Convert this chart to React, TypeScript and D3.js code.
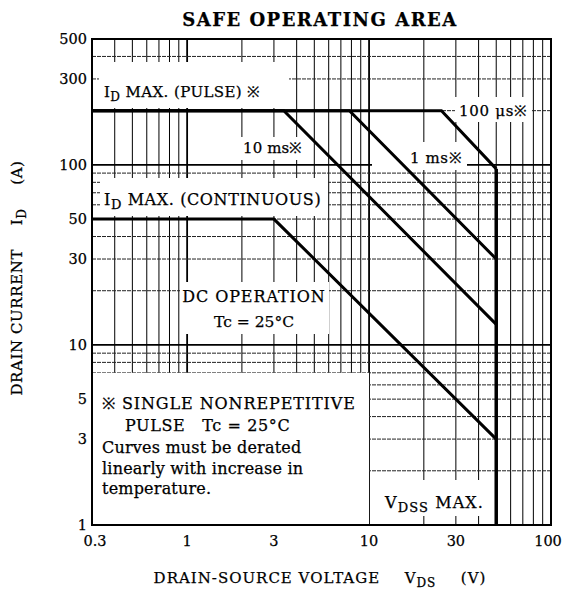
import React, { useEffect, useRef } from "react";
import * as d3 from "d3";

const width = 563;
const height = 591;
const margin = { top: 39, right: 12, bottom: 66, left: 92 };
const font = "'DejaVu Serif', serif";

// axes
const xDomain = [0.3, 100];
const yDomain = [1, 500];
const xTicks = [0.3, 1, 3, 10, 30, 100];
const yTicks = [1, 3, 5, 10, 30, 50, 100, 300, 500];
const xGrid = [0.4, 0.5, 0.6, 0.7, 0.8, 0.9, 1, 2, 3, 4, 5, 6, 7, 8, 9, 10, 20, 30, 40, 50, 60, 70, 80, 90];
const yGrid = [2, 3, 4, 5, 6, 7, 8, 9, 10, 20, 30, 40, 50, 60, 70, 80, 90, 100, 200, 300, 400];
const majorGrid = [1, 10, 100];

// SOA limits (VDS V, ID A)
const dcLimit = [[0.3, 50], [3, 50], [50, 3]];
const limit10ms = [[0.3, 200], [3.4, 200], [50, 13]];
const limit1ms = [[0.3, 200], [7.8, 200], [50, 30]];
const limit100us = [[0.3, 200], [25, 200], [50, 95]];
const vdssLimit = [[50, 95], [50, 1]];

const noteLines = ["Curves must be derated", "linearly with increase in", "temperature."];

const SafeOperatingArea: React.FC = () => {
  const svgRef = useRef<SVGSVGElement | null>(null);

  useEffect(() => {
    if (!svgRef.current) return;
    const svg = d3.select(svgRef.current);
    svg.selectAll("*").remove();

    const x = d3.scaleLog().domain(xDomain).range([margin.left, width - margin.right]);
    const y = d3.scaleLog().domain(yDomain).range([height - margin.bottom, margin.top]);
    const x0 = margin.left, x1 = width - margin.right;
    const y0 = height - margin.bottom, y1 = margin.top;

    // grid
    const grid = svg.append("g");
    grid.selectAll("line.v").data(xGrid).enter().append("line")
      .attr("x1", (d) => x(d)).attr("x2", (d) => x(d))
      .attr("y1", y0).attr("y2", y1)
      .attr("stroke", "#000")
      .attr("stroke-width", (d) => (majorGrid.includes(d) ? 1.8 : 1));
    grid.selectAll("line.h").data(yGrid).enter().append("line")
      .attr("x1", x0).attr("x2", x1)
      .attr("y1", (d) => y(d)).attr("y2", (d) => y(d))
      .attr("stroke", (d) => (majorGrid.includes(d) ? "#000" : "#222"))
      .attr("stroke-dasharray", (d) => (majorGrid.includes(d) ? null : "4,1"))
      .attr("stroke-width", (d) => (majorGrid.includes(d) ? 1.8 : 1));

    // white boxes behind labels (pixel boxes)
    const boxes = [
      [99, 62, 289, 108],
      [240, 137, 312, 160],
      [372, 142, 467, 170],
      [455, 97, 532, 122],
      [100, 178, 328, 216],
      [180, 282, 329, 334],
      [x(0.3), y(7), x(10), y(1)],
      [378, 480, 490, 516],
    ];
    svg.append("g").selectAll("rect").data(boxes).enter().append("rect")
      .attr("x", (d) => d[0]).attr("y", (d) => d[1])
      .attr("width", (d) => d[2] - d[0]).attr("height", (d) => d[3] - d[1])
      .attr("fill", "#fff");

    // limit curves
    const line = d3.line<number[]>().x((d) => x(d[0])).y((d) => y(d[1]));
    const curves = svg.append("g").attr("fill", "none").attr("stroke", "#000");
    [dcLimit, limit10ms, limit1ms, limit100us].forEach((c) => {
      curves.append("path").attr("d", line(c)).attr("stroke-width", 3);
    });
    curves.append("path").attr("d", line(vdssLimit)).attr("stroke-width", 3.5);

    // frame
    svg.append("rect")
      .attr("x", x0).attr("y", y1).attr("width", x1 - x0).attr("height", y0 - y1)
      .attr("fill", "none").attr("stroke", "#000").attr("stroke-width", 2);

    const txt = svg.append("g")
      .attr("font-family", font).attr("fill", "#000")
      .attr("stroke", "#000").attr("stroke-width", 0.25);

    // tick labels
    txt.selectAll("text.xt").data(xTicks).enter().append("text")
      .attr("x", (d) => x(d) + (d === 0.3 ? 3 : d === 100 ? -3 : 0)).attr("y", 546)
      .attr("text-anchor", "middle").attr("font-size", 14.5)
      .text((d) => String(d));
    txt.selectAll("text.yt").data(yTicks).enter().append("text")
      .attr("x", 87).attr("y", (d) => y(d) + 5)
      .attr("text-anchor", "end").attr("font-size", 14.5)
      .text((d) => String(d));

    // title
    txt.append("text").attr("x", 320).attr("y", 26)
      .attr("text-anchor", "middle").attr("font-size", 18).attr("font-weight", "bold")
      .attr("letter-spacing", 1.5)
      .text("SAFE OPERATING AREA");

    // axis titles
    const xt = txt.append("text").attr("x", 320).attr("y", 583)
      .attr("text-anchor", "middle").attr("font-size", 15).attr("letter-spacing", 1)
      .attr("xml:space", "preserve");
    xt.append("tspan").text("DRAIN-SOURCE VOLTAGE\u2003\u2002V");
    xt.append("tspan").attr("font-size", 12).attr("dy", 4).text("DS");
    xt.append("tspan").attr("dy", -4).text("\u2003\u2002(V)");

    const yt = txt.append("text")
      .attr("transform", `translate(22,278) rotate(-90)`)
      .attr("text-anchor", "middle").attr("font-size", 15).attr("letter-spacing", 0.6);
    yt.append("tspan").text("DRAIN CURRENT\u2003\u2002I");
    yt.append("tspan").attr("font-size", 12).attr("dy", 4).text("D");
    yt.append("tspan").attr("dy", -4).text("\u2003\u2002(A)");

    // labels inside plot
    const sub = (xx: number, yy: number, a: string, b: string, c: string, size: number, ls: number) => {
      const t = txt.append("text").attr("x", xx).attr("y", yy)
        .attr("font-size", size).attr("letter-spacing", ls);
      t.append("tspan").text(a);
      t.append("tspan").attr("font-size", size - 3).attr("dy", 4).text(b);
      t.append("tspan").attr("dy", -4).text(c);
      return t;
    };
    sub(104, 97, "I", "D", " MAX. (PULSE) \u203B", 15, 0.4);
    sub(104, 205, "I", "D", " MAX. (CONTINUOUS)", 16, 0.6);
    sub(385, 508, "V", "DSS", " MAX.", 16, 1.1);

    const plain = (xx: number, yy: number, s: string, size: number, ls: number, anchor = "start") =>
      txt.append("text").attr("x", xx).attr("y", yy).attr("font-size", size)
        .attr("letter-spacing", ls).attr("text-anchor", anchor)
        .attr("xml:space", "preserve").text(s);

    plain(243, 153, "10 ms\u203B", 15, 0.1);
    plain(410, 163, "1 ms\u203B", 15, 0.6);
    plain(459, 116, "100 \u03BCs\u203B", 15, 0.7);

    plain(254, 302, "DC OPERATION", 16, 0.9, "middle");
    plain(254, 327, "Tc = 25\u00B0C", 15.5, 0, "middle");

    plain(102, 409, "\u203B SINGLE NONREPETITIVE", 16, 0.9);
    plain(125, 431, "PULSE   Tc = 25\u00B0C", 16, 0.6);
    txt.selectAll("text.note").data(noteLines).enter().append("text")
      .attr("x", 102).attr("y", (_d, i) => 453 + i * 20.5)
      .attr("font-size", 16).attr("letter-spacing", 0.2).text((d) => d);

    return () => {
      svg.selectAll("*").remove();
    };
  }, []);

  return (
    <svg
      ref={svgRef}
      width={width}
      height={height}
      style={{ position: "absolute", left: 0, top: 0, background: "#fff" }}
    />
  );
};

export default function App() {
  return <SafeOperatingArea />;
}
